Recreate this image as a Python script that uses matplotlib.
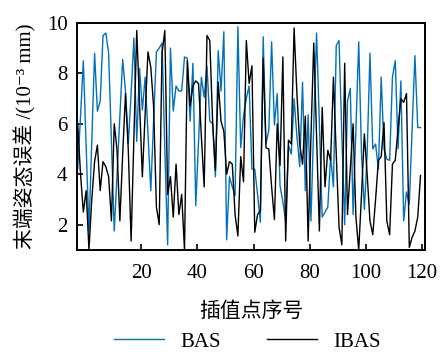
import numpy as np
import matplotlib
matplotlib.use("Agg")
import matplotlib.pyplot as plt

plt.rcParams['font.family'] = ['Liberation Serif', 'Noto Sans CJK SC', 'DejaVu Serif']

bas = [4.2, 6.3, 8.5, 5.1, 1.75, 5.3, 8.8, 6.5, 6.9, 9.5,
       9.6, 8.8, 5.3, 1.75, 4.0, 6.3, 8.55, 7.3, 5.2, 7.2,
       9.4, 5.3, 8.2, 6.55, 7.85, 5.6, 3.35, 6.1, 8.85, 9.0,
       9.2, 5.0, 1.2, 9.0, 6.5, 7.5, 7.3, 7.3, 8.65, 8.6,
       6.1, 8.4, 2.75, 5.3, 7.85, 7.05, 8.3, 6.1, 6.0, 3.9,
       8.9, 7.3, 9.65, 1.4, 3.9, 3.5, 3.15, 9.85, 5.05, 6.3,
       7.0, 7.5, 4.2, 4.2, 3.2, 2.1, 9.45, 5.2, 5.75, 9.25,
       5.95, 7.2, 3.55, 2.9, 2.15, 5.15, 4.8, 7.0, 5.5, 4.3,
       7.65, 3.35, 6.35, 2.15, 6.0, 9.6, 6.0, 2.3, 2.5, 2.7,
       4.7, 3.5, 9.1, 9.3, 5.5, 2.0, 6.9, 7.4, 2.4, 5.8,
       9.25, 4.8, 2.6, 4.8, 8.8, 5.0, 5.2, 4.2, 7.85, 5.0,
       4.6, 4.55, 7.85, 8.5, 5.0, 7.7, 2.15, 3.3, 2.8, 5.8,
       8.7, 5.85, 5.85]

ibas = [6.0, 4.0, 2.5, 3.35, 1.0, 3.0, 4.5, 5.15, 3.35, 4.5,
        4.3, 3.9, 2.15, 6.0, 4.95, 2.15, 4.8, 7.2, 4.95, 1.35,
        5.5, 9.7, 6.8, 3.9, 6.4, 8.85, 8.25, 6.7, 2.7, 2.0,
        8.8, 9.7, 3.2, 3.9, 2.3, 4.4, 2.4, 3.2, 1.0, 8.5,
        6.7, 7.5, 7.7, 7.6, 5.5, 3.5, 9.5, 9.3, 6.1, 4.15,
        7.65, 6.1, 5.7, 4.0, 4.5, 4.4, 2.4, 1.55, 4.7, 3.7,
        9.3, 7.6, 8.3, 1.7, 2.4, 2.55, 8.6, 5.05, 5.0, 3.5,
        2.2, 6.0, 4.35, 8.65, 1.35, 5.35, 5.2, 9.8, 7.2, 5.2,
        4.4, 6.3, 1.35, 5.5, 9.2, 5.5, 1.75, 6.65, 3.5, 4.95,
        4.55, 7.85, 4.8, 1.9, 1.2, 8.4, 2.4, 4.2, 6.0, 2.3,
        1.0, 3.2, 5.6, 4.0, 2.15, 1.6, 3.0, 4.55, 4.7, 6.05,
        2.15, 1.6, 4.4, 4.55, 5.8, 7.0, 6.85, 7.2, 1.1, 1.5,
        1.75, 2.3, 3.95]

x_start = -2.6
x = x_start + np.arange(len(bas))

xticks = [20, 40, 60, 80, 100, 120]
yticks = [2, 4, 6, 8, 10]

fig = plt.figure(figsize=(4.46, 3.58), dpi=100)
ax = fig.add_axes([0.173, 0.302, 0.780, 0.634])

ax.plot(x, bas, color='#0072BD', lw=1.0, label='BAS')
ax.plot(x, ibas, color='black', lw=1.0, label='IBAS')

ax.set_xlim(-2.8, 121)
ax.set_ylim(1, 10)
ax.set_xticks(xticks)
ax.set_yticks(yticks)
ax.tick_params(direction='in', labelsize=15, length=4, width=1.2)
ax.tick_params(axis='x', pad=10)
ax.tick_params(axis='y', pad=7)
for s in ax.spines.values():
    s.set_linewidth(1.4)

ax.set_xlabel('插值点序号', fontsize=15, labelpad=14)
ax.set_ylabel('末端姿态误差 /(10⁻³ mm)', fontsize=15, labelpad=7)

fig.legend(loc='lower center', bbox_to_anchor=(0.555, -0.035), ncol=2,
           frameon=False, fontsize=15, handlelength=2.4, columnspacing=2.2)

fig.savefig('out.png', dpi=100)
